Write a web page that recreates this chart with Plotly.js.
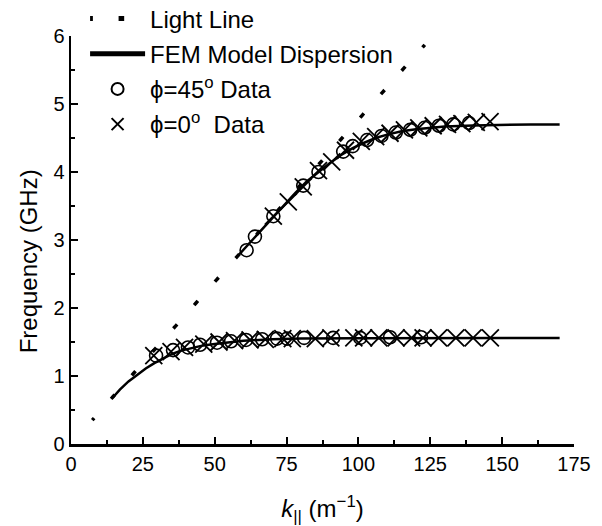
<!DOCTYPE html>
<html>
<head>
<meta charset="utf-8">
<script src="https://cdn.plot.ly/plotly-3.0.1.min.js"></script>
<style>html,body{margin:0;padding:0;background:#fff;}</style>
</head>
<body>
<div id="chart" style="width:602px;height:526px;"></div>
<script>
// Light line (dotted)
var lightK = [7.4, 14.6, 21.9, 29.1, 36.3, 43.6, 50.8, 58.0, 65.2, 72.5, 79.7, 86.9, 94.2, 101.4, 108.6, 115.9, 123.1];
var lightF = [0.35, 0.70, 1.04, 1.39, 1.73, 2.08, 2.42, 2.77, 3.11, 3.46, 3.80, 4.15, 4.49, 4.84, 5.18, 5.53, 5.87];

// FEM model dispersion - lower branch
var femLowK = [14.5, 17, 20, 23, 26, 29, 32, 35, 38, 42, 46, 50, 55, 60, 70, 80, 100, 130, 170];
var femLowF = [0.68, 0.80, 0.92, 1.02, 1.11, 1.19, 1.26, 1.32, 1.37, 1.41, 1.45, 1.47, 1.50, 1.52, 1.54, 1.55, 1.555, 1.56, 1.56];
// FEM model dispersion - upper branch
var femUpK = [57.7, 62, 66, 70, 74, 78, 82, 86, 90, 94, 98, 102, 106, 110, 115, 120, 125, 130, 140, 150, 160, 170];
var femUpF = [2.75, 2.95, 3.14, 3.33, 3.52, 3.69, 3.86, 4.00, 4.13, 4.25, 4.35, 4.43, 4.50, 4.55, 4.60, 4.63, 4.655, 4.67, 4.685, 4.695, 4.70, 4.70];

// phi = 45 deg data (circles)
var d45LowK = [29.6, 35.5, 40.7, 44.9, 50.8, 55.7, 60.9, 66.5, 71.7, 75.2, 81.1, 91.2, 100.6, 111.0, 121.8];
var d45LowF = [1.30, 1.38, 1.42, 1.46, 1.49, 1.51, 1.53, 1.54, 1.55, 1.55, 1.56, 1.56, 1.56, 1.57, 1.57];
var d45UpK = [61.1, 64.0, 70.4, 80.8, 86.1, 94.7, 98.0, 103.0, 108.0, 113.0, 118.0, 123.0, 128.0, 133.0, 138.5];
var d45UpF = [2.85, 3.05, 3.35, 3.80, 4.00, 4.30, 4.38, 4.47, 4.53, 4.58, 4.62, 4.65, 4.68, 4.70, 4.72];

// phi = 0 deg data (crosses)
var d0LowK = [28.8, 34.8, 39.5, 46.2, 51.5, 56.9, 62.3, 67.6, 73.7, 77.0, 85.0, 90.4, 98.4, 101.8, 107.1, 113.1, 118.5, 122.5, 127.9, 133.9, 139.9, 145.9];
var d0LowF = [1.30, 1.36, 1.42, 1.47, 1.50, 1.52, 1.53, 1.54, 1.55, 1.55, 1.55, 1.56, 1.56, 1.56, 1.56, 1.56, 1.56, 1.56, 1.56, 1.56, 1.56, 1.56];
var d0UpK = [70.4, 75.6, 80.8, 86.1, 90.7, 95.5, 101.0, 106.0, 111.0, 116.0, 121.0, 126.0, 131.0, 136.0, 141.0, 145.8];
var d0UpF = [3.35, 3.56, 3.78, 4.02, 4.15, 4.32, 4.45, 4.52, 4.57, 4.62, 4.65, 4.68, 4.70, 4.71, 4.73, 4.74];

var xTickVals = [0, 25, 50, 75, 100, 125, 150, 175];
var yTickVals = [0, 1, 2, 3, 4, 5, 6];

var FONT = 'Liberation Sans, Arial, sans-serif';

var traces = [
  {x: lightK, y: lightF, mode: 'lines', name: 'Light Line', legendgroup: 'a',
   line: {color: '#000', width: 3.5, dash: '2.8px,25.7px,2.8px,0px'}},
  {x: femLowK, y: femLowF, mode: 'lines', name: 'FEM Model Dispersion', legendgroup: 'b',
   line: {color: '#000', width: 2.5}},
  {x: femUpK, y: femUpF, mode: 'lines', name: 'FEM Model Dispersion', legendgroup: 'b', showlegend: false,
   line: {color: '#000', width: 2.5}},
  {x: d45LowK.concat(d45UpK), y: d45LowF.concat(d45UpF), mode: 'markers', name: '\u03d5=45<sup>o</sup> Data', legendgroup: 'c',
   marker: {symbol: 'circle-open', size: 13, color: '#000', line: {color: '#000', width: 1.6}}},
  {x: d0LowK.concat(d0UpK), y: d0LowF.concat(d0UpF), mode: 'markers', name: '\u03d5=0<sup>o</sup>  Data', legendgroup: 'd',
   marker: {symbol: 'x-thin-open', size: 17, color: '#000', line: {color: '#000', width: 1.8}}}
];

var layout = {
  width: 602, height: 526,
  margin: {l: 71, r: 28, t: 36, b: 82, pad: 0, autoexpand: false},
  paper_bgcolor: '#fff', plot_bgcolor: '#fff',
  font: {family: FONT, size: 20, color: '#000'},
  showlegend: true,
  legend: {
    x: 0.028, y: 1.097, xanchor: 'left', yanchor: 'top',
    bgcolor: 'rgba(0,0,0,0)', borderwidth: 0,
    font: {family: FONT, size: 24, color: '#000'},
    itemwidth: 55, traceorder: 'grouped', tracegroupgap: 1, itemsizing: 'constant'
  },
  xaxis: {
    range: [0, 175], tickvals: xTickVals, ticktext: xTickVals.map(String),
    ticks: 'inside', ticklen: 7, tickwidth: 2, tickcolor: '#000',
    minor: {ticks: 'inside', ticklen: 4, tickwidth: 2, tickcolor: '#000', dtick: 12.5, tick0: 0},
    showline: true, linecolor: '#000', linewidth: 2.5, mirror: false,
    showgrid: false, zeroline: false, fixedrange: true, automargin: false,
    tickfont: {family: FONT, size: 20, color: '#000'},
    title: {text: '<i>k</i><sub>||</sub> (m<sup>\u22121</sup>)', font: {family: FONT, size: 24, color: '#000'}, standoff: 28}
  },
  yaxis: {
    range: [0, 6], tickvals: yTickVals, ticktext: yTickVals.map(String),
    ticks: 'inside', ticklen: 7, tickwidth: 2, tickcolor: '#000',
    minor: {ticks: 'inside', ticklen: 4, tickwidth: 2, tickcolor: '#000', dtick: 0.5, tick0: 0},
    showline: true, linecolor: '#000', linewidth: 2.5, mirror: false,
    showgrid: false, zeroline: false, fixedrange: true, automargin: false,
    tickfont: {family: FONT, size: 20, color: '#000'}
  },
  annotations: [{
    text: 'Frequency (GHz)', textangle: -90, showarrow: false,
    xref: 'paper', yref: 'paper', x: -0.084, y: 0.447, xanchor: 'center', yanchor: 'middle',
    font: {family: FONT, size: 24, color: '#000'}
  }]
};

Plotly.newPlot('chart', traces, layout, {displayModeBar: false, staticPlot: true});
</script>
</body>
</html>
